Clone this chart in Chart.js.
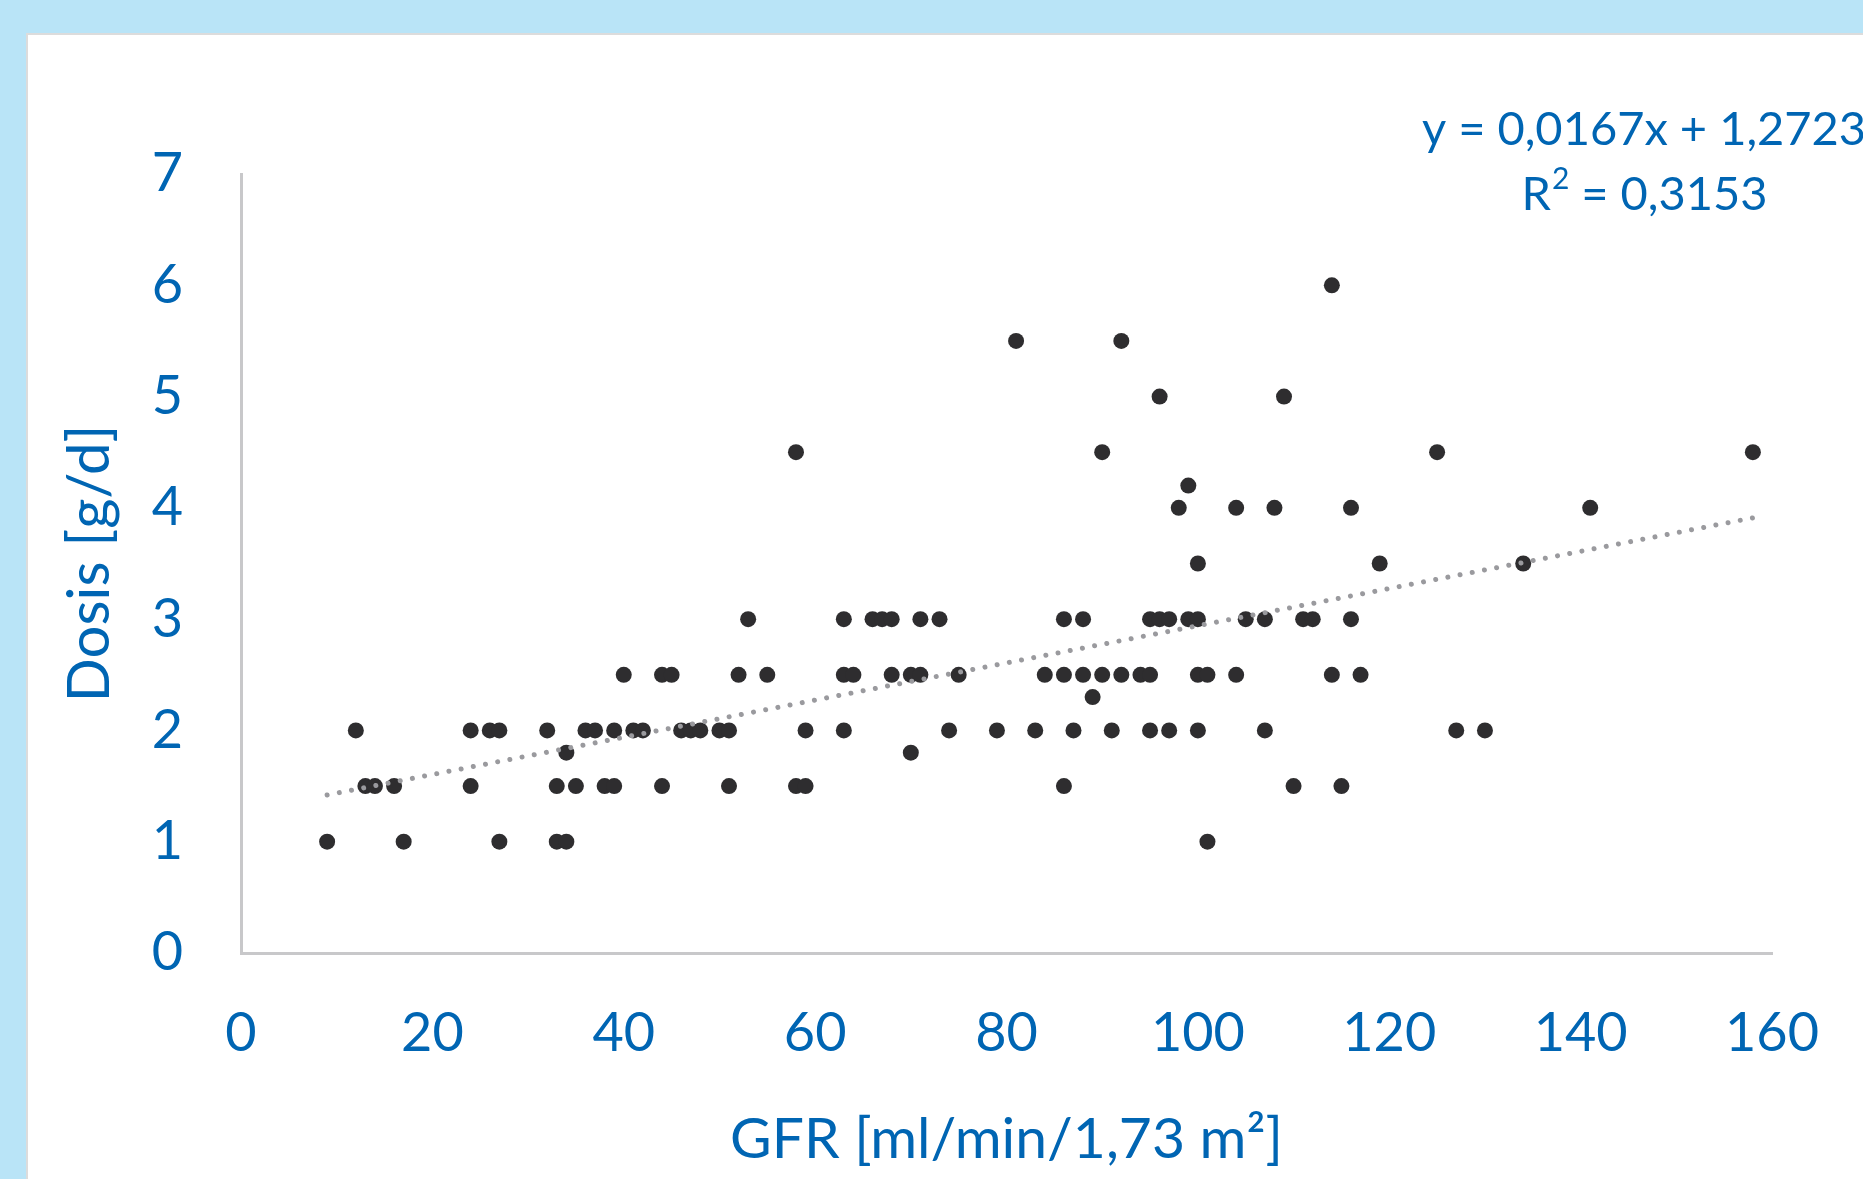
<!DOCTYPE html>
<html>
<head>
<meta charset="utf-8">
<script src="https://cdn.jsdelivr.net/npm/chart.js@4"></script>
<style>
  html, body { margin: 0; padding: 0; }
  body { width: 1863px; height: 1179px; background: #b9e4f7; position: relative; overflow: hidden; }
  #panel { position: absolute; left: 26px; top: 33px; right: 0; bottom: 0; background: #fff;
           border-left: 2px solid #dcdcdc; border-top: 2px solid #dcdcdc; }
  #chart { position: absolute; left: 0; top: 0; }
</style>
</head>
<body>
<div id="panel"></div>
<canvas id="chart" width="1863" height="1179"></canvas>
<script>
// GFR [ml/min/1,73 m²] vs. dose [g/d]
const gfr = [
  9, 12, 13, 14, 16, 17, 24, 24, 26, 27, 27, 32, 33, 33, 34, 34, 35, 36, 37, 38,
  39, 39, 40, 41, 42, 44, 45, 44, 46, 47, 48, 50, 51, 51, 52, 53, 55, 58, 59, 59,
  58, 63, 63, 64, 63, 66, 67, 68, 68, 70, 70, 71, 71, 73, 74, 75, 79, 81, 83, 84,
  86, 88, 95, 96, 97, 99, 100, 105, 107, 111, 112, 116, 86, 88, 90, 92, 94, 95, 100, 101,
  104, 114, 117, 89, 87, 91, 95, 97, 100, 107, 86, 110, 115, 101, 114, 92, 96, 109, 90, 125,
  99, 98, 104, 108, 116, 100, 119, 158, 141, 134, 127, 130
];
const dose = [
  1, 2, 1.5, 1.5, 1.5, 1, 2, 1.5, 2, 2, 1, 2, 1.5, 1, 1, 1.8, 1.5, 2, 2, 1.5,
  1.5, 2, 2.5, 2, 2, 2.5, 2.5, 1.5, 2, 2, 2, 2, 2, 1.5, 2.5, 3, 2.5, 1.5, 1.5, 2,
  4.5, 3, 2.5, 2.5, 2, 3, 3, 3, 2.5, 1.8, 2.5, 2.5, 3, 3, 2, 2.5, 2, 5.5, 2, 2.5,
  3, 3, 3, 3, 3, 3, 3, 3, 3, 3, 3, 3, 2.5, 2.5, 2.5, 2.5, 2.5, 2.5, 2.5, 2.5,
  2.5, 2.5, 2.5, 2.3, 2, 2, 2, 2, 2, 2, 1.5, 1.5, 1.5, 1, 6, 5.5, 5, 5, 4.5, 4.5,
  4.2, 4, 4, 4, 4, 3.5, 3.5, 4.5, 4, 3.5, 2, 2
];

// linear trendline endpoints as drawn (x from 9 to 158)
const trendX = [9, 158];
const trendY = [1.42, 3.91];

const equationText = 'y = 0,0167x + 1,2723';
const rSquaredText = ' = 0,3153';
const xTitle = 'GFR [ml/min/1,73 m²]';
const yTitle = 'Dosis [g/d]';

const BLUE = '#0065b3';
const FONT = 'Lato';

const points = gfr.map((x, i) => ({ x, y: dose[i] }));
const trend  = trendX.map((x, i) => ({ x, y: trendY[i] }));

// equation + R² label at top right
const equationLabel = {
  id: 'equationLabel',
  afterDraw(chart) {
    const ctx = chart.ctx;
    const cx = 1644;
    ctx.save();
    ctx.fillStyle = BLUE;
    ctx.textBaseline = 'alphabetic';
    ctx.font = '47px ' + FONT;
    ctx.textAlign = 'center';
    ctx.fillText(equationText, cx, 145);

    // R with a real superscript 2
    ctx.textAlign = 'left';
    const wR = ctx.measureText('R').width;
    const wRest = ctx.measureText(rSquaredText).width;
    ctx.font = '30px ' + FONT;
    const wSup = ctx.measureText('2').width;
    let x = cx - (wR + wSup + wRest) / 2;
    ctx.font = '47px ' + FONT;
    ctx.fillText('R', x, 210);
    x += wR;
    ctx.font = '30px ' + FONT;
    ctx.fillText('2', x + 1, 189);
    x += wSup + 1;
    ctx.font = '47px ' + FONT;
    ctx.fillText(rSquaredText, x, 210);
    ctx.restore();
  }
};

new Chart(document.getElementById('chart'), {
  type: 'scatter',
  data: {
    datasets: [
      {
        type: 'line',
        data: trend,
        order: 0,
        borderColor: '#9a9a9e',
        borderWidth: 5,
        borderDash: [0.01, 12.4],
        borderCapStyle: 'round',
        pointRadius: 0,
        fill: false,
      },
      {
        data: points,
        order: 1,
        pointRadius: 8,
        pointBackgroundColor: '#2e2d2f',
        pointBorderWidth: 0,
      },
    ],
  },
  options: {
    responsive: false,
    animation: false,
    devicePixelRatio: 1,
    layout: { padding: { top: 174, right: 87, left: 0, bottom: 0 } },
    plugins: {
      legend: { display: false },
      tooltip: { enabled: false },
    },
    scales: {
      x: {
        type: 'linear',
        min: 0, max: 160,
        afterFit: (s) => { s.height = 226; },
        grid: { display: false, drawTicks: false },
        border: { display: true, color: '#c8c8ca', width: 3 },
        ticks: {
          stepSize: 20,
          color: BLUE,
          padding: 44,
          font: { family: FONT, size: 54, lineHeight: 1.35 },
          maxRotation: 0,
        },
        title: {
          display: true,
          text: xTitle,
          color: BLUE,
          font: { family: FONT, size: 57, lineHeight: 1 },
          padding: { top: 0, bottom: 11 },
        },
      },
      y: {
        min: 0, max: 7,
        afterFit: (s) => { s.width = 241; },
        grid: { display: false, drawTicks: false },
        border: { display: true, color: '#c8c8ca', width: 3 },
        ticks: {
          stepSize: 1,
          color: BLUE,
          padding: 58,
          font: { family: FONT, size: 54 },
        },
        title: {
          display: true,
          text: yTitle,
          color: BLUE,
          font: { family: FONT, size: 58, lineHeight: 1 },
          padding: { top: 61, bottom: 0 },
        },
      },
    },
  },
  plugins: [equationLabel],
});
</script>
</body>
</html>
